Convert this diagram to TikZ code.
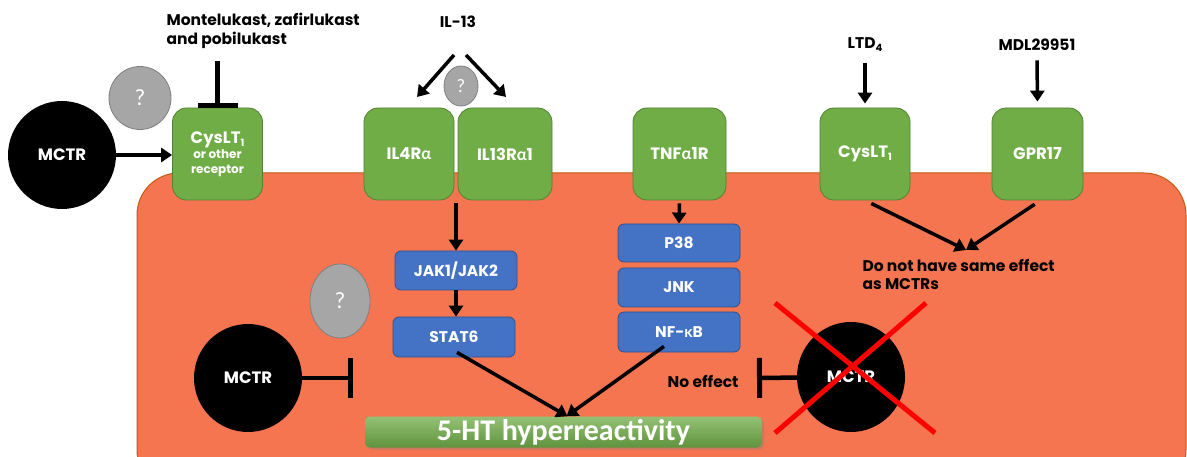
\documentclass[tikz,border=0pt]{standalone}
\usepackage{fontspec}
\setmainfont{Poppins}
\newfontfamily\bigfont{Carlito}
\newfontfamily\grk{Lato}
\usetikzlibrary{arrows.meta,shapes.geometric,shadows}

\definecolor{cellorange}{RGB}{244,117,80}
\definecolor{celledge}{RGB}{197,90,17}
\definecolor{recgreen}{RGB}{112,173,71}
\definecolor{recedge}{RGB}{84,130,53}
\definecolor{kinblue}{RGB}{68,114,196}
\definecolor{kinedge}{RGB}{47,82,143}
\definecolor{qgray}{RGB}{166,166,166}
\definecolor{qedge}{RGB}{127,127,127}

\newcommand{\lsub}[1]{\raisebox{-0.35ex}{\fontsize{10}{10}\selectfont #1}}

\tikzset{
  receptor/.style={draw=recedge, fill=recgreen, rounded corners=14pt, minimum width=90pt, minimum height=92pt, text=white, font=\fontsize{16.5}{18}\selectfont\bfseries, align=center, line width=0.8pt},
  kinase/.style={draw=kinedge, fill=kinblue, rounded corners=6pt, minimum width=122pt, minimum height=39pt, text=white, font=\fontsize{15.5}{17}\selectfont\bfseries, line width=0.8pt},
  mctr/.style={ellipse, fill=black, minimum width=108pt, minimum height=108pt, text=white, font=\fontsize{16.5}{18}\selectfont\bfseries},
  unknown/.style={ellipse, draw=qedge, fill=qgray, text=white, font=\grk\fontsize{22}{22}\selectfont, line width=0.8pt, inner sep=0pt},
  lbl/.style={font=\fontsize{15.5}{20}\selectfont\bfseries, align=left},
  act/.style={line width=3.5pt, -{Triangle[length=11pt,width=14pt]}},
  inh/.style={line width=4.5pt, -{Bar[width=40pt,line width=5pt]}}
}

\begin{document}
\begin{tikzpicture}[x=1pt, y=-1pt]
  \useasboundingbox (0,0) rectangle (1187,457);
  \clip (0,0) rectangle (1187,457);
  \fill[white] (0,0) rectangle (1187,457);

  \draw[draw=celledge, fill=cellorange, line width=1pt, rounded corners=42pt] (137,173) rectangle (1186,492);

  \node (cys1) at (217.5,154) [receptor] {CysLT\lsub{1}\\[-3pt]{\fontsize{12}{14}\selectfont or other}\\[-3pt]{\fontsize{12}{14}\selectfont receptor}};
  \node (il4r) at (409,154) [receptor] {IL4R{\grk α}};
  \node (il13r) at (505,154) [receptor, minimum width=94pt] {IL13R{\grk α}1};
  \node (tnfr) at (679.5,154) [receptor, minimum width=93pt] {TNF{\grk α}1R};
  \node (cys2) at (865,154) [receptor] {CysLT\lsub{1}};
  \node (gpr) at (1037.5,154) [receptor, minimum width=91pt] {GPR17};

  \node (jak) at (456,270.5) [kinase] {JAK1/JAK2};
  \node (stat) at (454,337) [kinase, minimum height=40pt] {STAT6};
  \node (p38) at (679,243) [kinase, minimum height=38pt] {P38};
  \node (jnk) at (679,287.5) [kinase] {JNK};
  \node (nfkb) at (679,332) [kinase, minimum height=40pt] {NF-{\grk κ}B};

  \node (ht) at (563.5,432) [rounded corners=5pt, minimum width=397pt, minimum height=31pt, top color=recgreen!75!white, bottom color=recgreen!85!black, drop shadow={opacity=0.35, shadow xshift=2pt, shadow yshift=-2pt}, text=white, font=\bigfont\fontsize{30}{30}\selectfont\bfseries, inner sep=0pt] {5-HT hyperreactivity};

  \node (mctrA) at (62,155) [mctr] {MCTR};
  \node (mctrB) at (248,378) [mctr] {MCTR};
  \node (mctrC) at (851,377) [mctr, minimum height=110pt] {MCTR};

  \node (qA) at (140,98) [unknown, minimum width=62pt, minimum height=63pt] {?};
  \node (qB) at (461,86) [unknown, minimum width=34pt, minimum height=40pt, font=\grk\fontsize{18}{18}\selectfont] {?};
  \node (qC) at (340,301) [unknown, minimum width=60pt, minimum height=74pt] {?};

  \node (drugs) at (163,10) [lbl, anchor=north west] {Montelukast, zafirlukast\\[-1pt]and pobilukast};
  \node (il13) at (458,22) [lbl] {IL-13};
  \node (ltd) at (865,45) [lbl] {LTD\lsub{4}};
  \node (mdl) at (1037,45) [lbl] {MDL29951};
  \node (noeff) at (742,381) [lbl, anchor=east] {No effect};
  \node (donot) at (859,256) [lbl, anchor=north west] {Do not have same effect\\[-2pt]as MCTRs};

  \coordinate (il13l) at (454,55);
  \coordinate (il13r in) at (417,97);
  \coordinate (il13rr) at (466,55);
  \coordinate (il13r2 in) at (506,97);
  \coordinate (blockB) at (353,378);
  \coordinate (blockC) at (757,378);
  \coordinate (meet) at (966,250);

  \draw[act] (mctrA) -- (cys1.west |- mctrA);
  \draw[inh] (cys1.north |- drugs.south) ++(0,8) -- (cys1.north);
  \draw[act] (il13l) -- (il13r in);
  \draw[act] (il13rr) -- (il13r2 in);
  \draw[act, shorten <=3pt] (jak.north |- il4r.south) -- (jak.north);
  \draw[act] (jak.south) -- (jak.south |- stat.north);
  \draw[act, shorten <=3pt] (tnfr.south) -- (p38.north);
  \draw[act] ([xshift=3pt,yshift=5pt]stat.south) -- ([xshift=4pt]ht.north);
  \draw[act] ([xshift=-15pt,yshift=6pt]nfkb.south) -- ([xshift=3pt]ht.north);
  \draw[inh] (mctrB) -- (blockB);
  \draw[inh] (mctrC) -- (blockC);
  \draw[act, shorten <=8pt, shorten >=4pt] (ltd.south) -- (cys2.north);
  \draw[act, shorten <=6pt, shorten >=6pt] (mdl.south) -- (gpr.north);
  \draw[act, shorten <=7pt] (cys2.south) -- (meet);
  \draw[act, shorten <=7pt] ([xshift=3pt]gpr.south) -- (meet);

  \draw[red, line width=5pt] (775,303) -- (935,433);
  \draw[red, line width=5pt] (775,433) -- (926,303);
\end{tikzpicture}
\end{document}
